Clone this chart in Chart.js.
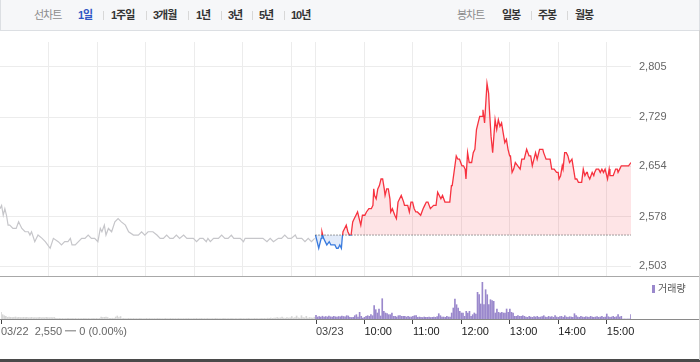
<!DOCTYPE html>
<html lang="ko">
<head>
<meta charset="utf-8">
<title>선차트 1일</title>
<script src="https://cdn.jsdelivr.net/npm/chart.js@4.4.1/dist/chart.umd.min.js"></script>
<style>
  html, body { margin: 0; padding: 0; background: #fff; }
  body { width: 700px; height: 362px; position: relative; overflow: hidden;
         font-family: "Liberation Sans", "Noto Sans CJK KR", sans-serif; }
  .tabs { position: absolute; left: 0; top: 0; width: 698px; height: 30px;
          background: #f6f7f9; border: 1px solid #dcdfe3; border-top: none; }
  .tabs span { position: absolute; top: 0; line-height: 30px; font-size: 11px; letter-spacing: -1px;
               font-weight: bold; color: #333; white-space: nowrap; }
  .tabs span.label { color: #8c8c8c; font-weight: normal; }
  .tabs span.on { color: #2f55c4; }
  .tabs i { position: absolute; top: 11px; width: 1px; height: 9px; background: #d8d8d8; }
  .box { position: absolute; left: 0; width: 700px; }
  .line { position: absolute; left: 0; width: 700px; height: 1px; }
  .legend { position: absolute; left: 652px; top: 283px; font-size: 10px; color: #555; line-height: 12px; }
  .legend b { display: inline-block; width: 3px; height: 8px; background: #9a88cc; margin-right: 3px; vertical-align: -1px; }
</style>
</head>
<body>
<div class="tabs">
  <span class="label" style="left:33px">선차트</span>
  <span class="on" style="left:77px">1일</span><i style="left:102px"></i>
  <span style="left:110px">1주일</span><i style="left:145px"></i>
  <span style="left:152px">3개월</span><i style="left:187px"></i>
  <span style="left:195px">1년</span><i style="left:220px"></i>
  <span style="left:227px">3년</span><i style="left:251px"></i>
  <span style="left:258px">5년</span><i style="left:283px"></i>
  <span style="left:290px">10년</span>
  <span class="label" style="left:456px">봉차트</span>
  <span style="left:501px">일봉</span><i style="left:530px"></i>
  <span style="left:537px">주봉</span><i style="left:566px"></i>
  <span style="left:574px">월봉</span>
</div>

<!-- y labels add 14px above/below the plot, so the box overhangs by that much -->
<div class="box" style="top:28px;height:262px"><canvas id="priceChart"></canvas></div>
<div class="box" style="top:277px;height:80px"><canvas id="volumeChart"></canvas></div>

<div class="line" style="top:276px;background:#a8a8a8"></div>
<div class="line" style="top:319px;background:#8a8a8a"></div>
<div class="line" style="top:359px;height:3px;background:#4a4a4a"></div>
<div style="position:absolute;left:699px;top:30px;width:1px;height:330px;background:#d0d0d0"></div>
<div class="legend"><b></b>거래량</div>

<script>
const prevClose = 2550;
const yTicks = [2503, 2578, 2654, 2729, 2805];
const xTickMinutes = [0, 390, 450, 510, 570, 630, 690, 750];
const xTickLabels = ["03/22  2,550 ━ 0 (0.00%)", "03/23", "10:00", "11:00", "12:00", "13:00", "14:00", "15:00"];
const gridMinutes = [60, 120, 180, 240, 300, 360, 390, 450, 510, 570, 630, 690, 750];
const SESSION = 390; // 09:00 ~ 15:30
const VOL_STEP = 2; // minutes per volume bar

// 03/22 (previous day, gray)
const day1Times = [
  "09:00", "09:02", "09:04", "09:06", "09:08", "09:10", "09:12", "09:16", "09:20", "09:23",
  "09:27", "09:31", "09:35", "09:37", "09:39", "09:43", "09:47", "09:52", "09:56", "10:02",
  "10:06", "10:12", "10:16", "10:20", "10:24", "10:27", "10:29", "10:33", "10:37", "10:41",
  "10:45", "10:49", "10:53", "10:57", "11:01", "11:04", "11:06", "11:09", "11:11", "11:14",
  "11:18", "11:22", "11:26", "11:30", "11:35", "11:39", "11:45", "11:51", "11:55", "11:59",
  "12:03", "12:09", "12:14", "12:18", "12:22", "12:26", "12:30", "12:34", "12:38", "12:42",
  "12:47", "12:51", "12:59", "13:03", "13:07", "13:11", "13:15", "13:17", "13:20", "13:24",
  "13:30", "13:34", "13:38", "13:42", "13:46", "13:49", "13:53", "13:57", "14:01", "14:03",
  "14:09", "14:17", "14:25", "14:30", "14:34", "14:38", "14:44", "14:48", "14:52", "14:56",
  "15:00", "15:05", "15:07", "15:13", "15:17", "15:21", "15:25", "15:29",
];
const day1Prices = [
  2590, 2595, 2580, 2590, 2580, 2565, 2565, 2560, 2560, 2570,
  2560, 2555, 2555, 2550, 2555, 2540, 2550, 2545, 2540, 2530,
  2545, 2540, 2535, 2540, 2540, 2545, 2535, 2535, 2540, 2545,
  2545, 2550, 2545, 2545, 2540, 2560, 2555, 2565, 2550, 2560,
  2555, 2570, 2575, 2570, 2565, 2555, 2550, 2550, 2555, 2550,
  2555, 2555, 2550, 2545, 2545, 2550, 2545, 2545, 2550, 2545,
  2550, 2545, 2545, 2540, 2545, 2545, 2540, 2545, 2540, 2545,
  2545, 2550, 2545, 2545, 2550, 2545, 2545, 2545, 2540, 2545,
  2545, 2545, 2545, 2540, 2545, 2540, 2545, 2545, 2550, 2545,
  2545, 2550, 2545, 2545, 2540, 2545, 2540, 2545,
];

// 03/23 (today)
const day2Times = [
  "09:00", "09:04", "09:07", "09:08", "09:10", "09:12", "09:14", "09:17", "09:19", "09:21",
  "09:24", "09:26", "09:28", "09:30", "09:32", "09:33", "09:34", "09:36", "09:38", "09:40",
  "09:42", "09:44", "09:46", "09:48", "09:50", "09:52", "09:54", "09:56", "09:58", "10:01",
  "10:03", "10:06", "10:09", "10:11", "10:12", "10:13", "10:15", "10:17", "10:19", "10:21",
  "10:23", "10:25", "10:26", "10:28", "10:30", "10:32", "10:33", "10:35", "10:38", "10:40",
  "10:42", "10:44", "10:46", "10:49", "10:50", "10:54", "10:56", "10:58", "11:00", "11:02",
  "11:04", "11:06", "11:10", "11:13", "11:15", "11:17", "11:19", "11:22", "11:26", "11:29",
  "11:31", "11:33", "11:35", "11:37", "11:40", "11:43", "11:46", "11:48", "11:49", "11:54",
  "11:56", "11:58", "12:01", "12:03", "12:05", "12:06", "12:08", "12:10", "12:13", "12:15",
  "12:17", "12:19", "12:21", "12:23", "12:26", "12:27", "12:29", "12:32", "12:34", "12:35",
  "12:37", "12:39", "12:42", "12:44", "12:46", "12:48", "12:50", "12:52", "12:54", "12:56",
  "12:58", "13:00", "13:01", "13:03", "13:05", "13:07", "13:10", "13:13", "13:15", "13:18",
  "13:21", "13:24", "13:26", "13:28", "13:32", "13:34", "13:37", "13:41", "13:42", "13:45",
  "13:50", "13:52", "13:55", "13:58", "14:00", "14:01", "14:03", "14:05", "14:06", "14:08",
  "14:10", "14:12", "14:14", "14:17", "14:19", "14:21", "14:23", "14:25", "14:29", "14:31",
  "14:33", "14:35", "14:36", "14:37", "14:39", "14:42", "14:44", "14:45", "14:47", "14:50",
  "14:52", "14:54", "14:56", "14:58", "15:01", "15:03", "15:04", "15:06", "15:08", "15:11",
  "15:13", "15:14", "15:16", "15:18", "15:23", "15:27", "15:30",
];
const day2Prices = [
  2550, 2530, 2545, 2555, 2545, 2540, 2535, 2540, 2535, 2535,
  2535, 2530, 2530, 2535, 2530, 2545, 2555, 2560, 2565, 2555,
  2550, 2550, 2570, 2575, 2580, 2585, 2575, 2565, 2580, 2580,
  2585, 2590, 2590, 2595, 2620, 2610, 2605, 2620, 2625, 2635,
  2635, 2620, 2610, 2620, 2620, 2605, 2585, 2590, 2580, 2575,
  2600, 2605, 2610, 2600, 2595, 2595, 2585, 2600, 2600, 2590,
  2585, 2585, 2580, 2590, 2595, 2600, 2600, 2590, 2595, 2595,
  2615, 2610, 2605, 2610, 2600, 2600, 2600, 2625, 2625, 2670,
  2665, 2665, 2655, 2655, 2650, 2635, 2675, 2660, 2660, 2675,
  2680, 2710, 2720, 2730, 2730, 2740, 2720, 2780, 2765, 2740,
  2700, 2675, 2725, 2710, 2725, 2715, 2720, 2705, 2690, 2695,
  2680, 2670, 2670, 2645, 2650, 2660, 2655, 2650, 2665, 2665,
  2680, 2670, 2670, 2655, 2675, 2665, 2680, 2680, 2675, 2665,
  2665, 2650, 2650, 2645, 2645, 2635, 2640, 2655, 2650, 2675,
  2675, 2670, 2660, 2665, 2650, 2635, 2635, 2630, 2630, 2650,
  2640, 2645, 2645, 2640, 2635, 2645, 2640, 2645, 2650, 2650,
  2645, 2650, 2645, 2650, 2635, 2650, 2640, 2640, 2640, 2650,
  2650, 2645, 2650, 2655, 2655, 2655, 2660,
];

// volume per 2-minute bar, from 09:00
const day1Volume = [
  67, 43, 33, 27, 17,
  20, 17, 15, 17, 20, 15, 17, 15, 13, 17, 15, 17, 13, 15, 17, 13, 15, 13, 15, 17, 13, 15, 13, 17, 15, 13, 15, 13, 15,
  6, 5, 7, 5, 6, 5, 5, 7, 6, 5, 6, 5, 7, 5, 6, 5, 5, 6, 7, 5, 6, 5, 5, 6, 5, 7, 5, 6,
  20, 15, 17, 20, 15,
  7, 6, 8, 6,
  20, 30, 15, 25,
  5, 6, 4, 5, 7, 5, 4, 6, 5, 5,
  4, 6, 5, 5, 4, 7, 5, 6, 4, 5,
  5, 4, 6, 5, 5, 4, 5, 6, 4, 5,
  6, 5, 4, 5, 5, 6, 4, 5, 5, 4,
  5, 6, 5, 4, 5, 5, 7, 4, 5, 6,
  4, 5, 5, 6, 4, 5, 5, 4, 6, 5,
  5, 4, 5, 6, 5, 4, 5, 5, 6, 4,
  5, 5, 4, 6, 5, 5, 4, 5, 6, 5,
  4, 5, 6, 5, 5, 4, 7, 5, 6, 5,
  8, 6, 10, 7,
  8, 10, 15, 8, 12, 20, 10, 8, 15, 10, 12, 25, 10, 15, 30, 12, 10, 33, 15, 12, 27, 10, 15, 12, 10, 18,
  12,
];
const day2Volume = [
  37, 20, 25, 20, 28, 18, 25, 20, 28, 22, 20, 27, 22, 18, 25, 22, 30, 25, 22, 33, 30,
  17, 15, 17, 33, 43, 20, 67, 27, 10, 17, 27, 33, 27, 43, 33,
  133, 93, 60, 100, 30, 203, 77, 60, 53, 43, 43, 60, 27, 27, 20, 33, 33, 27, 27, 27, 20, 27, 20, 20, 27, 33, 33,
  17, 20, 17, 15, 20, 17, 17, 20, 15, 17, 20, 17,
  23, 53, 33, 20, 20, 17, 27, 20, 20, 60, 110, 200, 143, 110, 77, 60, 60, 27, 77, 60, 77, 27, 43, 60, 50,
  267, 243, 150, 367, 143, 293, 243, 143, 193, 183, 177, 60, 100, 67, 60, 67, 60, 60, 100, 67,
  100, 67, 60, 27, 27, 33, 27, 27, 33, 27,
  20, 17, 27, 20, 17, 23, 20, 27, 17, 20,
  23, 33, 20, 17, 27, 20, 23, 17, 33, 20,
  17, 23, 27, 17, 33, 20, 17, 23, 20, 17,
  53, 33, 20, 17, 27, 20, 17, 23, 20, 17,
  27, 20, 17, 20, 23, 17, 20, 27, 17, 20,
  50, 23, 17, 20, 27, 17, 23, 43, 20, 27,
  0, 0, 0, 0, 0,
  43,
];
const volumeMax = 400;

const chartColors = {
  red: "#f7323f",
  redFill: "rgba(247,50,63,0.13)",
  blue: "#3a7bde",
  blueFill: "rgba(58,123,222,0.15)",
  gray: "#c6c6ca",
  grid: "#ececec",
  axisText: "#666",
  volume: "#9a88cc",
  volumePrev: "#d6d6d6",
};

Chart.defaults.font.family = '"Liberation Sans", Arial, sans-serif';

function toMinute(day, hhmm) {
  const [h, m] = hhmm.split(":").map(Number);
  return day * SESSION + (h - 9) * 60 + m;
}

// red above the previous close, blue below it
const splitClip = {
  id: "splitClip",
  beforeDatasetDraw(chart, args) {
    const side = chart.data.datasets[args.index].side;
    if (!side) return;
    const { ctx, chartArea: a, scales } = chart;
    const yb = scales.y.getPixelForValue(prevClose);
    ctx.save();
    ctx.beginPath();
    if (side === "up") ctx.rect(a.left, a.top - 5, a.right - a.left + 2, yb - a.top + 5);
    else ctx.rect(a.left, yb, a.right - a.left + 2, a.bottom - yb + 5);
    ctx.clip();
  },
  afterDatasetDraw(chart, args) {
    if (chart.data.datasets[args.index].side) chart.ctx.restore();
  },
};

function renderPriceChart() {
  const today = day2Times.map((t, i) => ({ x: toMinute(1, t), y: day2Prices[i] }));
  const prev = day1Times.map((t, i) => ({ x: toMinute(0, t), y: day1Prices[i] }));
  const step = (yTicks[yTicks.length - 1] - yTicks[0]) / (yTicks.length - 1);

  new Chart(document.getElementById("priceChart").getContext("2d"), {
    type: "line",
    data: {
      datasets: [
        {
          side: "up",
          data: today,
          borderColor: chartColors.red,
          borderWidth: 1.3,
          pointRadius: 0,
          fill: { target: { value: prevClose }, above: chartColors.redFill, below: "rgba(0,0,0,0)" },
        },
        {
          side: "down",
          data: today,
          borderColor: chartColors.blue,
          borderWidth: 1.3,
          pointRadius: 0,
          fill: { target: { value: prevClose }, above: "rgba(0,0,0,0)", below: chartColors.blueFill },
        },
        {
          data: [
            { x: today[0].x, y: prevClose },
            { x: today[today.length - 1].x, y: prevClose },
          ],
          borderColor: "#444",
          borderWidth: 1,
          borderDash: [1, 2],
          pointRadius: 0,
          fill: false,
          order: -1,
        },
        {
          data: prev,
          borderColor: chartColors.gray,
          borderWidth: 1.2,
          pointRadius: 0,
          fill: false,
        },
      ],
    },
    options: {
      responsive: true,
      maintainAspectRatio: false,
      animation: false,
      layout: { padding: 0 },
      elements: { line: { tension: 0 } },
      plugins: { legend: { display: false }, tooltip: { enabled: false } },
      scales: {
        x: {
          type: "linear",
          min: 0,
          max: SESSION * 2,
          afterBuildTicks: (s) => { s.ticks = gridMinutes.map((v) => ({ value: v })); },
          afterFit: (s) => { s.height = 0; },
          ticks: { display: false },
          grid: { color: chartColors.grid, drawTicks: false },
          border: { display: false },
        },
        y: {
          position: "right",
          min: yTicks[0] - 0.2 * step,
          max: yTicks[yTicks.length - 1] + 0.5 * step,
          afterBuildTicks: (s) => { s.ticks = yTicks.map((v) => ({ value: v })); },
          afterFit: (s) => { s.width = 69; },
          ticks: {
            padding: 8,
            color: chartColors.axisText,
            font: { size: 11, lineHeight: "12px" },
            callback: (v) => v.toLocaleString("en-US"),
          },
          grid: { color: chartColors.grid, drawTicks: false },
          border: { display: false },
        },
      },
    },
    plugins: [splitClip],
  });
}

function renderVolumeChart() {
  const bars1 = day1Volume.map((v, i) => ({ x: i * VOL_STEP, y: v }));
  const bars2 = day2Volume.map((v, i) => ({ x: SESSION + i * VOL_STEP, y: v }));

  new Chart(document.getElementById("volumeChart").getContext("2d"), {
    type: "bar",
    data: {
      datasets: [
        { data: bars2, backgroundColor: chartColors.volume, barThickness: 1, grouped: false },
        { data: bars1, backgroundColor: chartColors.volumePrev, barThickness: 1, grouped: false },
      ],
    },
    options: {
      responsive: true,
      maintainAspectRatio: false,
      animation: false,
      layout: { padding: { top: 2, left: 0, right: 69, bottom: 0 } },
      plugins: { legend: { display: false }, tooltip: { enabled: false } },
      scales: {
        x: {
          type: "linear",
          min: 0,
          max: SESSION * 2,
          offset: false,
          afterBuildTicks: (s) => { s.ticks = xTickMinutes.map((v) => ({ value: v })); },
          afterFit: (s) => { s.height = 38; },
          ticks: {
            align: "start",
            autoSkip: false,
            maxRotation: 0,
            padding: 1,
            font: { size: 11 },
            color: (c) => (c.index === 0 ? "#666" : c.index === 1 ? "#444" : "#222"),
            callback: (v, i) => xTickLabels[i],
          },
          grid: { drawOnChartArea: false, drawTicks: true, tickLength: 5, tickColor: "#444", offset: false },
          border: { display: false },
        },
        y: { display: false, min: 0, max: volumeMax },
      },
    },
  });
}

document.addEventListener("DOMContentLoaded", () => {
  renderPriceChart();
  renderVolumeChart();
});
</script>
</body>
</html>
